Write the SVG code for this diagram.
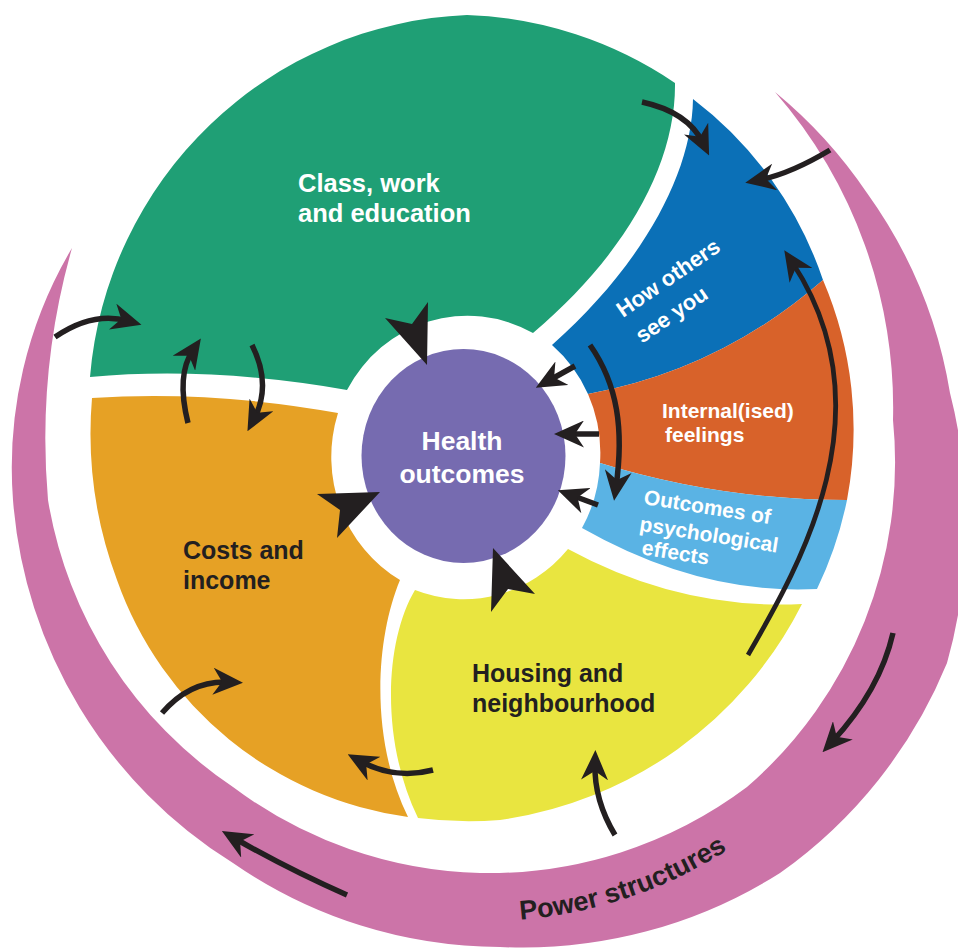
<svg xmlns="http://www.w3.org/2000/svg" width="958" height="948" viewBox="0 0 958 948">
<defs>
<style>
.lbl{font-family:"Liberation Sans",Arial,sans-serif;font-weight:bold}
.w{fill:#ffffff}
.d{fill:#231f20}
.arr{fill:none;stroke:#231f20;stroke-width:5.5;marker-end:url(#ah)}
.big{fill:#231f20}
</style>
<marker id="ah" viewBox="0 0 30 27" markerWidth="30" markerHeight="27" refX="16" refY="13.5" orient="auto" markerUnits="userSpaceOnUse">
<path d="M0,0 L30,13.5 L0,27 L9,13.5 Z" fill="#231f20"/>
</marker>
<path id="powerArc" d="M516.3,919.9 A449,449 0 0 0 829,760.6"/>
</defs>
<rect width="958" height="948" fill="#ffffff"/>

<g id="node-power">
<path d="M72,248 A430,430 0 0 0 13,500 A470,470 0 0 0 233,863 A470,470 0 0 0 500,947 A480,480 0 0 0 780,873 A480,480 0 0 0 947,663 A480,480 0 0 0 965,520 A480,480 0 0 0 950,393 A475,475 0 0 0 867,193 A475,475 0 0 0 775,92 A480,480 0 0 1 893,420 A430,430 0 0 1 747,787 A430,430 0 0 1 480,873 A430,430 0 0 1 233,787 A430,430 0 0 1 48,500 A700,700 0 0 1 72,248 Z" fill="#cc74a8"/>
<text class="lbl d" font-size="27"><textPath href="#powerArc" startOffset="4">Power structures</textPath></text>
</g>

<g id="node-class">
<path d="M90,377 A395,395 0 0 1 467,15 A395,395 0 0 1 675,83 C676,165 625,255 533,333 A137,142 0 0 0 347,390 Q210,366 90,377 Z" fill="#1f9f75"/>
<text class="lbl w" font-size="25.5"><tspan x="298" y="192">Class, work</tspan><tspan x="298" y="222">and education</tspan></text>
</g>

<g id="node-costs">
<path d="M92,398 Q210,390 338,413 A137,142 0 0 0 400,580 C375,640 370,740 408,817 A360,360 0 0 1 117,580 A420,420 0 0 1 92,398 Z" fill="#e6a125"/>
<text class="lbl d" font-size="25"><tspan x="183" y="559">Costs and</tspan><tspan x="183" y="589">income</tspan></text>
</g>

<g id="node-housing">
<path d="M415,590 A137,142 0 0 0 568,549 Q680,610 802,604 A400,400 0 0 1 500,820 A400,400 0 0 1 418,818 C380,740 385,640 415,590 Z" fill="#e9e540"/>
<text class="lbl d" font-size="25"><tspan x="472" y="682">Housing and</tspan><tspan x="472" y="712">neighbourhood</tspan></text>
</g>

<g id="node-others">
<path d="M693,99 A380,380 0 0 1 823,280 Q720,370 588,394 A137,142 0 0 0 552,345 C640,267 692,175 693,99 Z" fill="#0b70b7"/>
<text class="lbl w" font-size="22" transform="translate(623,318) rotate(-34.5)"><tspan x="0" y="0">How others</tspan><tspan x="1" y="32">see you</tspan></text>
</g>

<g id="node-internal">
<path d="M588,394 Q720,370 823,280 A380,380 0 0 1 847,500 Q720,500 600,463 A137,142 0 0 0 588,394 Z" fill="#d8622a"/>
<text class="lbl w" font-size="21"><tspan x="662" y="418">Internal(ised)</tspan><tspan x="665" y="442">feelings</tspan></text>
</g>

<g id="node-outcomes">
<path d="M600,463 Q720,500 847,500 A380,380 0 0 1 817,589 Q700,595 582,528 A137,142 0 0 0 600,463 Z" fill="#5ab3e4"/>
<text class="lbl w" font-size="21" transform="translate(643,504) rotate(9)"><tspan x="0" y="0">Outcomes of</tspan><tspan x="0" y="27">psychological</tspan><tspan x="6" y="50">effects</tspan></text>
</g>

<g id="node-health">
<ellipse cx="463.5" cy="456" rx="102" ry="107" fill="#766bb0"/>
<text class="lbl w" font-size="26.5" text-anchor="middle"><tspan x="462" y="450">Health</tspan><tspan x="462" y="483">outcomes</tspan></text>
</g>

<g id="connectors">
<path class="arr" d="M642,102 Q688,112 703,143"/>
<path class="arr" d="M830,150 Q790,174 759,180"/>
<path class="arr" style="stroke-width:4.8" d="M748,655 C800,565 890,410 792,262"/>
<path class="arr" d="M590,345 C618,385 624,430 616,487"/>
<path class="arr" d="M575,366 L548,381"/>
<path class="arr" d="M599,434 L568,434"/>
<path class="arr" d="M598,505 L571,495"/>
<path class="arr" d="M55,337 Q93,311 128,321"/>
<path class="arr" d="M188,423 Q176,375 193,350"/>
<path class="arr" d="M252,345 Q272,385 254,419"/>
<path class="arr" d="M162,713 Q190,680 229,682"/>
<path class="arr" d="M433,770 Q395,780 360,761"/>
<path class="arr" d="M615,835 Q594,800 595,764"/>
<path class="arr" d="M347,895 Q290,870 234,838"/>
<path class="arr" d="M893,633 Q880,690 832,742"/>
<polygon class="big" points="385,318 427,365 428,302 412,324"/>
<polygon class="big" points="317,494 380,492 337,538 340,510"/>
<polygon class="big" points="535,594 493,548 491,612 508,589"/>
</g>
</svg>
